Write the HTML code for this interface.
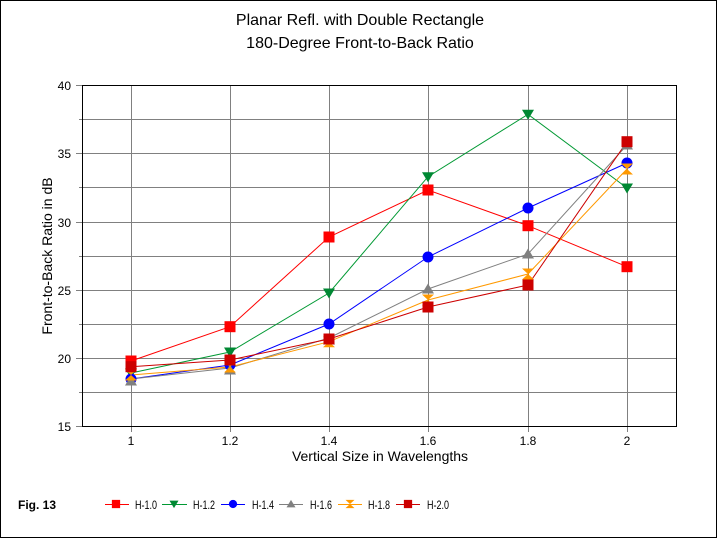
<!DOCTYPE html>
<html><head><meta charset="utf-8"><style>
body{margin:0;background:#fff}
svg{display:block}
text{font-family:"Liberation Sans",Arial,sans-serif}
</style></head><body>
<svg width="717" height="538" viewBox="0 0 717 538" xmlns="http://www.w3.org/2000/svg">
<rect x="0.5" y="0.5" width="716" height="537" fill="#fff" stroke="#000"/>
<text x="360" y="25" font-size="16" text-anchor="middle">Planar Refl. with Double Rectangle</text>
<text x="360" y="48" font-size="16" text-anchor="middle">180-Degree Front-to-Back Ratio</text>
<g stroke="#808080" stroke-width="1">
<line x1="76" y1="85.5" x2="676" y2="85.5"/>
<line x1="79" y1="119.5" x2="676" y2="119.5"/>
<line x1="76" y1="153.5" x2="676" y2="153.5"/>
<line x1="79" y1="187.5" x2="676" y2="187.5"/>
<line x1="76" y1="222.5" x2="676" y2="222.5"/>
<line x1="79" y1="256.5" x2="676" y2="256.5"/>
<line x1="76" y1="290.5" x2="676" y2="290.5"/>
<line x1="79" y1="324.5" x2="676" y2="324.5"/>
<line x1="76" y1="358.5" x2="676" y2="358.5"/>
<line x1="79" y1="392.5" x2="676" y2="392.5"/>
<line x1="76" y1="426.5" x2="676" y2="426.5"/>
<line x1="131.5" y1="85" x2="131.5" y2="432"/>
<line x1="230.5" y1="85" x2="230.5" y2="432"/>
<line x1="329.5" y1="85" x2="329.5" y2="432"/>
<line x1="428.5" y1="85" x2="428.5" y2="432"/>
<line x1="528.5" y1="85" x2="528.5" y2="432"/>
<line x1="627.5" y1="85" x2="627.5" y2="432"/>
</g>
<rect x="82.5" y="85.5" width="594" height="341" fill="none" stroke="#000"/>
<g font-size="12" text-anchor="end">
<text x="71" y="90">40</text><text x="71" y="158">35</text><text x="71" y="227">30</text>
<text x="71" y="295">25</text><text x="71" y="363">20</text><text x="71" y="431">15</text>
</g>
<g font-size="12" text-anchor="middle">
<text x="131" y="445">1</text><text x="230" y="445">1.2</text><text x="329" y="445">1.4</text>
<text x="428" y="445">1.6</text><text x="528" y="445">1.8</text><text x="627" y="445">2</text>
</g>
<text x="380" y="461" font-size="14" text-anchor="middle">Vertical Size in Wavelengths</text>
<text transform="translate(52,256) rotate(-90)" font-size="14" text-anchor="middle">Front-to-Back Ratio in dB</text>
<defs>
<rect id="sq" x="-5.5" y="-5.5" width="11" height="11"/>
<path id="dn" d="M-6,-4.5 L6,-4.5 L0,5.5 Z"/>
<circle id="ci" r="5.5"/>
<path id="up" d="M-6,4.5 L6,4.5 L0,-5.5 Z"/>
<path id="hg" d="M-6,-5.5 L6,-5.5 L0,0 L6,5.5 L-6,5.5 L0,0 Z"/>
</defs>
<polyline fill="none" stroke="#ff0000" points="131,361 230,326.7 329,237 428,190 528,225.7 627,266.7"/>
<polyline fill="none" stroke="#009933" points="131,373 230,352 329,293 428,176.7 528,114.3 627,188"/>
<polyline fill="none" stroke="#0000ff" points="131,379 230,365 329,324 428,257 528,208 627,163"/>
<polyline fill="none" stroke="#808080" points="131,379 230,368 329,338 428,289 528,254 627,145"/>
<polyline fill="none" stroke="#ff9900" points="131,375 230,367 329,341.7 428,300 528,274 627,169"/>
<polyline fill="none" stroke="#cc0000" points="131,366.7 230,360 329,339 428,307 528,285 627,141.7"/>
<g fill="#ff0000"><use href="#sq" x="131" y="361"/><use href="#sq" x="230" y="326.7"/><use href="#sq" x="329" y="237"/><use href="#sq" x="428" y="190"/><use href="#sq" x="528" y="225.7"/><use href="#sq" x="627" y="266.7"/></g>
<g fill="#008833"><use href="#dn" x="131" y="373"/><use href="#dn" x="230" y="352"/><use href="#dn" x="329" y="293"/><use href="#dn" x="428" y="176.7"/><use href="#dn" x="528" y="114.3"/><use href="#dn" x="627" y="188"/></g>
<g fill="#0000ff"><use href="#ci" x="131" y="379"/><use href="#ci" x="230" y="365"/><use href="#ci" x="329" y="324"/><use href="#ci" x="428" y="257"/><use href="#ci" x="528" y="208"/><use href="#ci" x="627" y="163"/></g>
<g fill="#808080"><use href="#up" x="131" y="381"/><use href="#up" x="230" y="370"/><use href="#up" x="329" y="340"/><use href="#up" x="428" y="289"/><use href="#up" x="528" y="254"/><use href="#up" x="627" y="145"/></g>
<g fill="#ff9900"><use href="#hg" x="131" y="375"/><use href="#hg" x="230" y="367"/><use href="#hg" x="329" y="341.7"/><use href="#hg" x="428" y="300"/><use href="#hg" x="528" y="274"/><use href="#hg" x="627" y="169"/></g>
<g fill="#cc0000"><use href="#sq" x="131" y="366.7"/><use href="#sq" x="230" y="360"/><use href="#sq" x="329" y="339"/><use href="#sq" x="428" y="307"/><use href="#sq" x="528" y="285"/><use href="#sq" x="627" y="141.7"/></g>
<text x="18" y="509" font-size="12" font-weight="bold">Fig. 13</text>
<g font-size="12">
<line x1="105" y1="504.5" x2="129" y2="504.5" stroke="#ff0000"/><use href="#sq" fill="#ff0000" transform="translate(116,504) scale(0.75)"/><text x="135" y="509" textLength="22" lengthAdjust="spacingAndGlyphs">H-1.0</text>
<line x1="162" y1="504.5" x2="187" y2="504.5" stroke="#009933"/><use href="#dn" fill="#008833" transform="translate(174,504) scale(0.75)"/><text x="193" y="509" textLength="22" lengthAdjust="spacingAndGlyphs">H-1.2</text>
<line x1="221" y1="504.5" x2="245" y2="504.5" stroke="#0000ff"/><use href="#ci" fill="#0000ff" transform="translate(233,504) scale(0.75)"/><text x="252" y="509" textLength="22" lengthAdjust="spacingAndGlyphs">H-1.4</text>
<line x1="279" y1="504.5" x2="303" y2="504.5" stroke="#808080"/><use href="#up" fill="#808080" transform="translate(291,504) scale(0.75)"/><text x="310" y="509" textLength="22" lengthAdjust="spacingAndGlyphs">H-1.6</text>
<line x1="338" y1="504.5" x2="362" y2="504.5" stroke="#ff9900"/><use href="#hg" fill="#ff9900" transform="translate(350,504) scale(0.75)"/><text x="368" y="509" textLength="22" lengthAdjust="spacingAndGlyphs">H-1.8</text>
<line x1="396" y1="504.5" x2="420" y2="504.5" stroke="#cc0000"/><use href="#sq" fill="#cc0000" transform="translate(408,504) scale(0.75)"/><text x="427" y="509" textLength="22" lengthAdjust="spacingAndGlyphs">H-2.0</text>
</g>
</svg>
</body></html>
